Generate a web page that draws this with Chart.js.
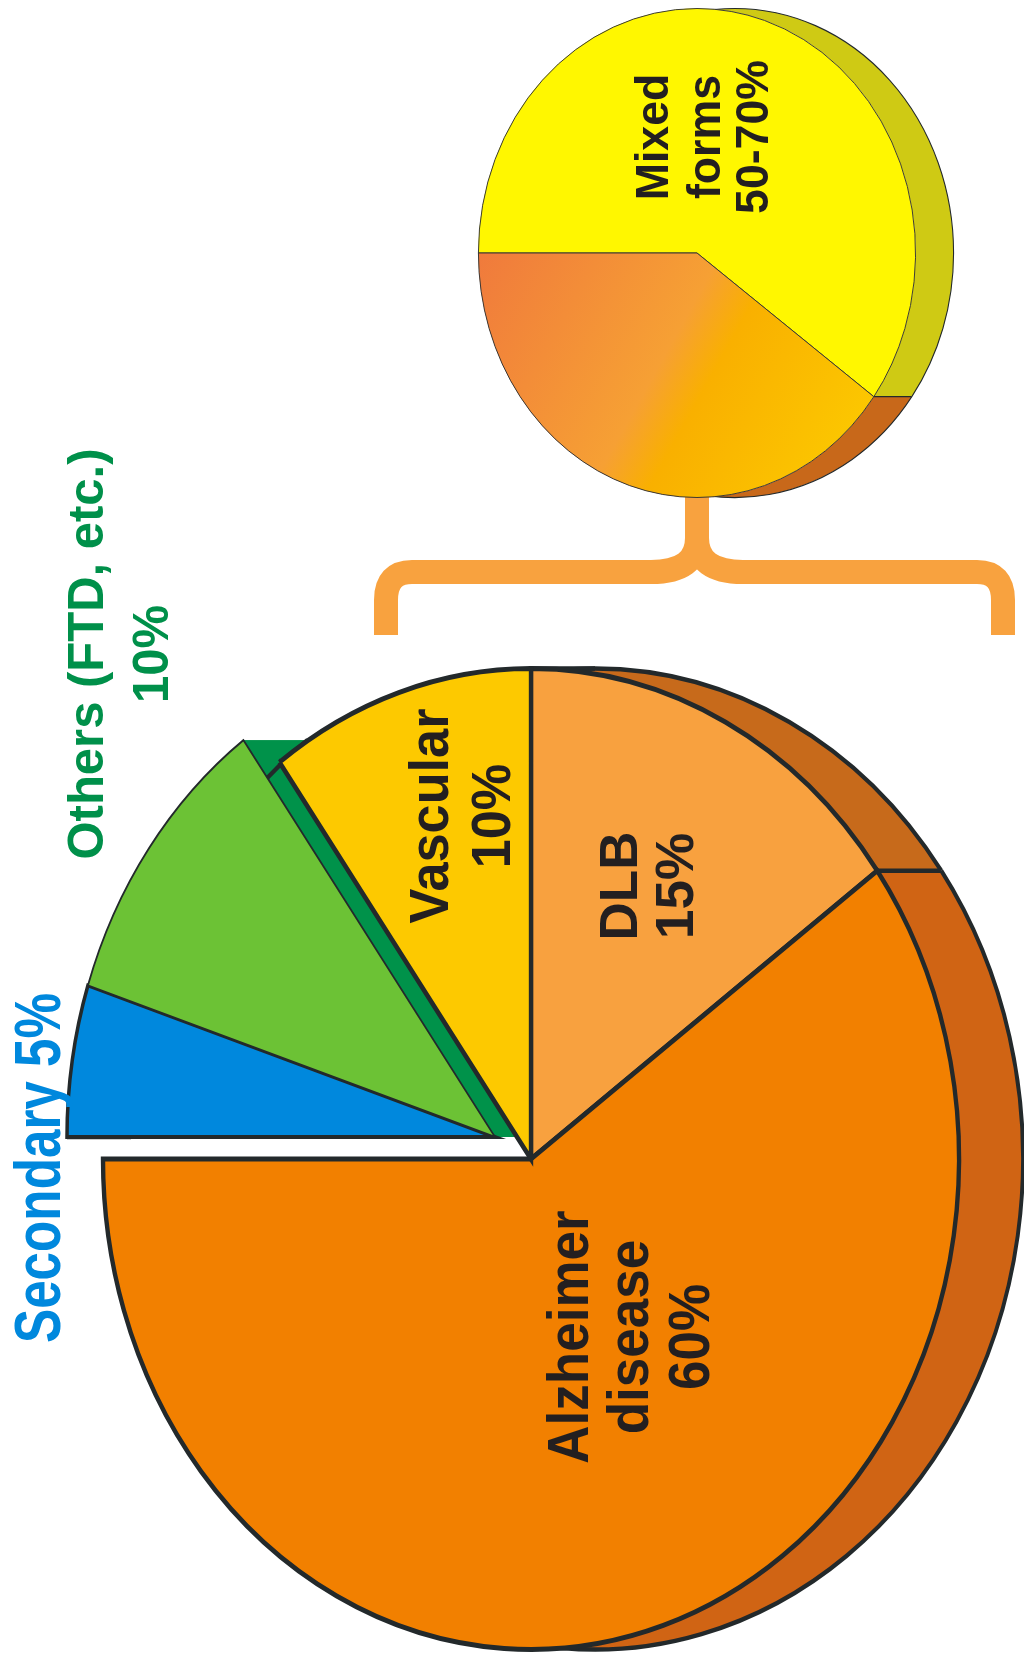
<!DOCTYPE html>
<html>
<head>
<meta charset="utf-8">
<title>Dementia types</title>
<script src="https://cdn.jsdelivr.net/npm/chart.js@4.4.0/dist/chart.umd.min.js"></script>
<style>
  html, body { margin: 0; padding: 0; background: #fff; }
  #wrap { position: relative; width: 1024px; height: 1657px; overflow: hidden; }
  canvas { position: absolute; left: 0; top: 0; }
</style>
</head>
<body>
<div id="wrap">
  <canvas id="mainPie" width="1024" height="1657"></canvas>
  <canvas id="mixedPie" width="1024" height="660"></canvas>
</div>
<script>
// main pie, slices clockwise from 12 o'clock
const dementiaTypes = ['DLB', 'Alzheimer disease', 'Secondary', 'Others (FTD, etc.)', 'Vascular'];
const dementiaShare = [15, 60, 5, 10, 10];
const explodedTypes = ['Secondary', 'Others (FTD, etc.)'];

// small pie (mixed forms)
const mixedParts = ['Mixed forms', 'Other'];
const mixedShare = [60, 40];
const mixedRangeLabel = '50-70%';

const INK = '#231f20';
const EDGE = '#23292b';

// where the rotated labels sit (baseline x of each line, centre y)
const textSpots = [
  { base: [637, 693], cy: 886, size: 53, squeeze: 1.0, color: INK },
  { base: [588, 648, 709], cy: 1337, size: 57, squeeze: 0.93, color: INK, split: true },
  { base: [60], cy: 1168, size: 64, squeeze: 0.8, color: '#0088dd', oneLine: true },
  { base: [103, 168], cy: 654, size: 50, squeeze: 0.98, color: '#00904a' },
  { base: [448, 510], cy: 816, size: 55, squeeze: 0.95, color: INK }
];
const mixedSpot = { base: [668, 720, 768], cy: 137, size: 47, squeeze: 0.95, color: INK };

function sliceLines(i) {
  const name = dementiaTypes[i];
  const pct = dementiaShare[i] + '%';
  const spot = textSpots[i];
  if (spot.oneLine) return [name + ' ' + pct];
  if (spot.split) return [...name.split(' '), pct];
  return [name, pct];
}

function drawRotated(ctx, spot, lines) {
  ctx.save();
  ctx.fillStyle = spot.color;
  ctx.font = 'bold ' + spot.size + 'px "Liberation Sans", Arial, sans-serif';
  ctx.textAlign = 'center';
  ctx.textBaseline = 'alphabetic';
  lines.forEach((line, i) => {
    ctx.save();
    ctx.translate(spot.base[i], spot.cy);
    ctx.rotate(-Math.PI / 2);
    ctx.scale(spot.squeeze, 1);
    ctx.fillText(line, 0, 0);
    ctx.restore();
  });
  ctx.restore();
}

// squash the pie horizontally, pull out some slices, add a side wall
function tiltFrame(ctx, arc, sx, dx, dy) {
  ctx.translate(arc.x + dx, arc.y + dy);
  ctx.scale(sx, 1);
  ctx.translate(-arc.x, -arc.y);
}

const tiltPlugin = {
  id: 'tilt',
  beforeDatasetDraw(chart, args, opts) {
    const ctx = chart.ctx;
    const arcs = args.meta.data;
    const names = chart.data.labels;
    const exploded = opts.exploded || [];
    const shift = i => exploded.includes(names[i]) ? opts.explode : [0, 0];
    const D = opts.depth / opts.sx;

    // side walls
    arcs.forEach((arc, i) => {
      const [dx, dy] = shift(i);
      const { x, y, startAngle: a0, endAngle: a1, outerRadius: R } = arc;
      ctx.save();
      tiltFrame(ctx, arc, opts.sx, dx, dy);
      ctx.fillStyle = opts.wallColors[i];
      ctx.beginPath();
      ctx.arc(x, y, R, a0, a1);
      ctx.lineTo(x + D + R * Math.cos(a1), y + R * Math.sin(a1));
      ctx.arc(x + D, y, R, a1, a0, true);
      ctx.closePath();
      ctx.fill();
      if (dx || dy) {
        [a0, a1].forEach(a => {
          ctx.beginPath();
          ctx.moveTo(x, y);
          ctx.lineTo(x + R * Math.cos(a), y + R * Math.sin(a));
          ctx.lineTo(x + D + R * Math.cos(a), y + R * Math.sin(a));
          ctx.lineTo(x + D, y);
          ctx.closePath();
          ctx.fill();
        });
      }
      ctx.restore();
    });

    // wall outlines
    arcs.forEach((arc, i) => {
      const [dx, dy] = shift(i);
      const { x, y, startAngle: a0, endAngle: a1, outerRadius: R } = arc;
      ctx.save();
      tiltFrame(ctx, arc, opts.sx, dx, dy);
      ctx.strokeStyle = EDGE;
      ctx.lineWidth = opts.wallLine;
      ctx.beginPath();
      ctx.arc(x + D, y, R, a0, a1);
      ctx.moveTo(x + R * Math.cos(a0), y + R * Math.sin(a0));
      ctx.lineTo(x + D + R * Math.cos(a0), y + R * Math.sin(a0));
      ctx.stroke();
      ctx.restore();
    });

    // front faces
    arcs.forEach((arc, i) => {
      const [dx, dy] = shift(i);
      ctx.save();
      tiltFrame(ctx, arc, opts.sx, dx, dy);
      arc.draw(ctx);
      ctx.restore();
    });
    return false;
  }
};

const mainText = {
  id: 'mainText',
  afterDraw(chart) {
    textSpots.forEach((spot, i) => drawRotated(chart.ctx, spot, sliceLines(i)));
  }
};

const mixedText = {
  id: 'mixedText',
  beforeDatasetsDraw(chart) {
    // curly brace linking the two pies, hanging from the small pie's centre line
    const ctx = chart.ctx;
    const mid = chart.getDatasetMeta(0).data[0].x;
    ctx.save();
    ctx.strokeStyle = '#f8a23f';
    ctx.lineWidth = 24;
    ctx.lineCap = 'butt';
    ctx.lineJoin = 'round';
    ctx.beginPath();
    ctx.moveTo(mid, 490);
    ctx.lineTo(mid, 538);
    ctx.quadraticCurveTo(mid, 572, mid - 46, 572);
    ctx.lineTo(412, 572);
    ctx.quadraticCurveTo(386, 572, 386, 600);
    ctx.lineTo(386, 635);
    ctx.moveTo(mid, 538);
    ctx.quadraticCurveTo(mid, 572, mid + 46, 572);
    ctx.lineTo(977, 572);
    ctx.quadraticCurveTo(1003, 572, 1003, 600);
    ctx.lineTo(1003, 635);
    ctx.stroke();
    ctx.restore();
  },
  afterDraw(chart) {
    const words = mixedParts[0].split(' ');
    drawRotated(chart.ctx, mixedSpot, [...words, mixedRangeLabel]);
  }
};

function mixedFill(context) {
  if (context.dataIndex === 0) return '#fff700';
  const chart = context.chart;
  const area = chart.chartArea;
  if (!area) return '#f7a232';
  const g = chart.ctx.createLinearGradient(area.left, area.top + area.height * 0.5,
    area.left + area.width * 0.8, area.bottom);
  g.addColorStop(0, '#f07a3c');
  g.addColorStop(0.5, '#f6a034');
  g.addColorStop(0.62, '#f9b000');
  g.addColorStop(1, '#fcc800');
  return g;
}

new Chart(document.getElementById('mainPie'), {
  type: 'pie',
  data: {
    labels: dementiaTypes,
    datasets: [{
      data: dementiaShare,
      backgroundColor: ['#f8a13f', '#f28000', '#0088dd', '#6cc235', '#fdc900'],
      borderColor: EDGE,
      borderWidth: [5, 5, 4, 2, 5],
      borderJoinStyle: 'miter'
    }]
  },
  options: {
    responsive: false,
    animation: false,
    events: [],
    layout: { padding: { left: 38, top: 666, right: 0, bottom: 5 } },
    plugins: {
      legend: { display: false },
      tooltip: { enabled: false },
      tilt: {
        sx: 0.8726,
        depth: 64,
        exploded: explodedTypes,
        explode: [-36, -22],
        wallColors: ['#c76a1b', '#d06414', '#0068b0', '#00924a', '#c88a10'],
        wallLine: 4.5
      }
    }
  },
  plugins: [tiltPlugin, mainText]
});

new Chart(document.getElementById('mixedPie'), {
  type: 'pie',
  data: {
    labels: mixedParts,
    datasets: [{
      data: mixedShare,
      backgroundColor: mixedFill,
      borderColor: '#333333',
      borderWidth: 1
    }]
  },
  options: {
    responsive: false,
    animation: false,
    events: [],
    rotation: 270,
    layout: { padding: { left: 452, top: 8, right: 82, bottom: 162 } },
    plugins: {
      legend: { display: false },
      tooltip: { enabled: false },
      tilt: {
        sx: 0.894,
        depth: 38,
        exploded: [],
        explode: [0, 0],
        wallColors: ['#cfca14', '#c8681a'],
        wallLine: 1.2
      }
    }
  },
  plugins: [tiltPlugin, mixedText]
});
</script>
</body>
</html>
